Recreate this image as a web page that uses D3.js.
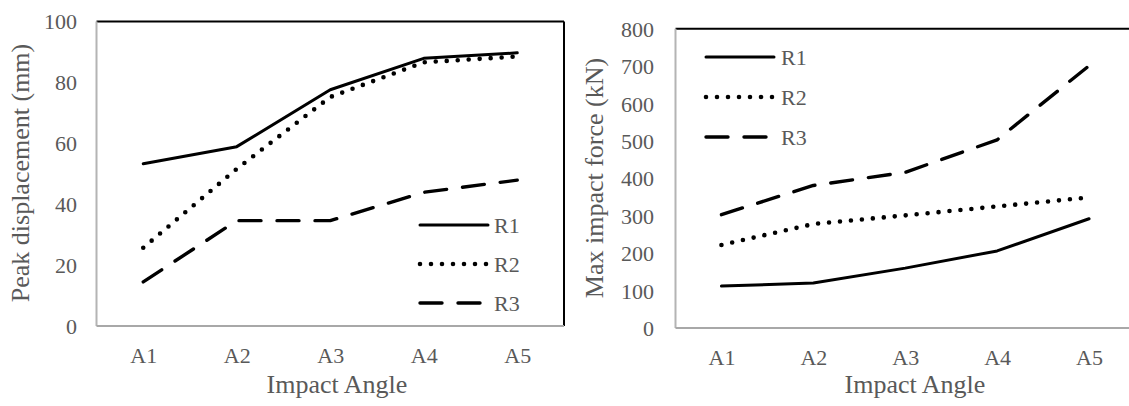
<!DOCTYPE html>
<html>
<head>
<meta charset="utf-8">
<script src="https://cdn.jsdelivr.net/npm/d3@7"></script>
<style>
  html, body { margin: 0; padding: 0; background: #fff; }
  svg { display: block; }
  text { font-family: "Liberation Serif", "Times New Roman", serif; fill: #595959; }
</style>
</head>
<body>
<svg id="chart" width="1129" height="406"></svg>
<script>
// ---- data ----
const categories = ["A1", "A2", "A3", "A4", "A5"];
const seriesNames = ["R1", "R2", "R3"];
// Peak displacement (mm)
const dispR1 = [53.3, 58.9, 77.6, 87.9, 89.7];
const dispR2 = [25.7, 51.6, 75.2, 86.6, 88.5];
const dispR3 = [14.5, 34.6, 34.6, 43.9, 47.9];
const dispTicks = [0, 20, 40, 60, 80, 100];
// Max impact force (kN)
const forceR1 = [112, 120, 160, 206, 292];
const forceR2 = [222, 278, 301, 325, 349];
const forceR3 = [303, 381, 416, 503, 701];
const forceTicks = [0, 100, 200, 300, 400, 500, 600, 700, 800];

const svg = d3.select("#chart");
const styles = {
  R1: { dash: null, width: 3, cap: "round" },
  R2: { dash: "0,11", width: 4.6, cap: "round" },
  R3: { dash: "22,16", width: 3.4, cap: "round" }
};

function drawPanel(cfg) {
  const g = svg.append("g");
  const x = d3.scalePoint().domain(categories).range([cfg.left, cfg.right]).padding(0.5);
  const y = d3.scaleLinear().domain([0, cfg.max]).range([cfg.bottom, cfg.top]);

  // frame: top (black), right (black), left & bottom (grey)
  g.append("line").attr("x1", cfg.left).attr("x2", cfg.frameRight)
    .attr("y1", cfg.top).attr("y2", cfg.top).attr("stroke", "#000").attr("stroke-width", 2);
  if (cfg.showRight) {
    g.append("line").attr("x1", cfg.frameRight).attr("x2", cfg.frameRight)
      .attr("y1", cfg.top).attr("y2", cfg.bottom).attr("stroke", "#000").attr("stroke-width", 2);
  }
  g.append("line").attr("x1", cfg.left).attr("x2", cfg.left)
    .attr("y1", cfg.top).attr("y2", cfg.bottom).attr("stroke", "#b4b4b4").attr("stroke-width", 2);
  g.append("line").attr("x1", cfg.left).attr("x2", cfg.frameRight)
    .attr("y1", cfg.bottom).attr("y2", cfg.bottom).attr("stroke", "#a8a8a8").attr("stroke-width", 2);

  // y axis via d3 axis (no lines)
  const yAxis = g.append("g").attr("transform", `translate(${cfg.yLabelX},0)`)
    .call(d3.axisLeft(y).tickValues(cfg.ticks).tickSize(0).tickPadding(0));
  yAxis.select(".domain").remove();
  yAxis.selectAll("text").attr("font-size", 22).attr("fill", "#595959")
    .style("font-family", '"Liberation Serif", serif').attr("dy", "0.34em");

  // x axis labels
  const xAxis = g.append("g").attr("transform", `translate(0,${cfg.bottom})`)
    .call(d3.axisBottom(x).tickSize(0).tickPadding(0));
  xAxis.select(".domain").remove();
  xAxis.selectAll("text").attr("font-size", 22).attr("fill", "#595959")
    .style("font-family", '"Liberation Serif", serif').attr("y", 37).attr("dy", 0);

  // titles
  g.append("text").attr("x", cfg.xTitleX).attr("y", 393).attr("text-anchor", "middle")
    .attr("font-size", 26).text("Impact Angle");
  g.append("text").attr("transform", `translate(${cfg.yTitleX},${cfg.yTitleY}) rotate(-90)`)
    .attr("text-anchor", "middle").attr("font-size", 26).text(cfg.yTitle);

  // lines
  const line = d3.line().x((d, i) => x(categories[i])).y(d => y(d));
  cfg.series.forEach((vals, k) => {
    const st = styles[seriesNames[k]];
    g.append("path").attr("d", line(vals)).attr("fill", "none").attr("stroke", "#000")
      .attr("stroke-width", st.width).attr("stroke-linecap", st.cap).attr("stroke-linejoin", "round")
      .attr("stroke-dasharray", st.dash);
  });

  // legend
  seriesNames.forEach((name, k) => {
    const st = styles[name];
    const ly = cfg.legY + k * cfg.legStep;
    g.append("line").attr("x1", cfg.legX1).attr("x2", cfg.legX2).attr("y1", ly).attr("y2", ly)
      .attr("stroke", "#000").attr("stroke-width", st.width).attr("stroke-linecap", st.cap)
      .attr("stroke-dasharray", st.dash);
    g.append("text").attr("x", cfg.legTextX).attr("y", ly + 8).attr("font-size", 22).text(name);
  });
}

drawPanel({
  left: 96.5, right: 564, frameRight: 564, showRight: true, top: 21.5, bottom: 326,
  max: 100, ticks: dispTicks, yLabelX: 77,
  xTitleX: 337, yTitleX: 29, yTitleY: 173, yTitle: "Peak displacement (mm)",
  series: [dispR1, dispR2, dispR3],
  legX1: 420, legX2: 488, legTextX: 494, legY: 225, legStep: 39
});

drawPanel({
  left: 675.5, right: 1135, frameRight: 1129, showRight: false, top: 28.7, bottom: 328,
  max: 800, ticks: forceTicks, yLabelX: 654,
  xTitleX: 915, yTitleX: 603, yTitleY: 178, yTitle: "Max impact force (kN)",
  series: [forceR1, forceR2, forceR3],
  legX1: 706, legX2: 774, legTextX: 781, legY: 57, legStep: 40
});
</script>
</body>
</html>
